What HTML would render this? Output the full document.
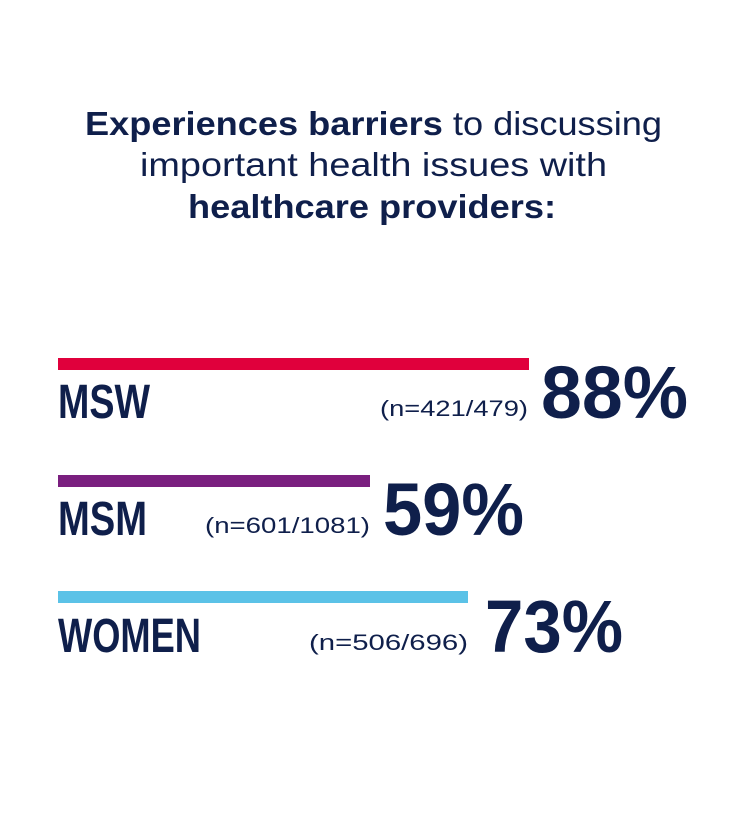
<!DOCTYPE html>
<html><head><style>body{margin:0;background:#fff}svg{display:block}</style></head><body>
<svg width="750" height="818" viewBox="0 0 750 818" xmlns="http://www.w3.org/2000/svg">
<g font-family="Liberation Sans, sans-serif" fill="#0f1f4b" font-size="33">
<text x="85" y="135" textLength="577" lengthAdjust="spacingAndGlyphs"><tspan font-weight="bold">Experiences barriers</tspan> to discussing</text>
<text x="140" y="176" textLength="467" lengthAdjust="spacingAndGlyphs">important health issues with</text>
<text x="188" y="218" textLength="368" lengthAdjust="spacingAndGlyphs" font-weight="bold">healthcare providers:</text>
</g>
<rect x="58" y="358" width="471" height="12" fill="#e0003c"/>
<rect x="58" y="475" width="312" height="12" fill="#7a1f7f"/>
<rect x="58" y="591" width="410" height="12" fill="#5bc2e7"/>
<g fill="#0f1f4b" font-weight="bold" font-family="Liberation Sans Narrow, Liberation Sans, sans-serif" font-size="48">
<text x="58" y="418" textLength="92" lengthAdjust="spacingAndGlyphs">MSW</text>
<text x="58" y="535" textLength="89" lengthAdjust="spacingAndGlyphs">MSM</text>
<text x="58" y="652" textLength="143" lengthAdjust="spacingAndGlyphs">WOMEN</text>
</g>
<g fill="#0f1f4b" font-family="Liberation Sans, sans-serif" font-size="22">
<text x="380" y="416" textLength="148" lengthAdjust="spacingAndGlyphs">(n=421/479)</text>
<text x="205" y="533" textLength="165" lengthAdjust="spacingAndGlyphs">(n=601/1081)</text>
<text x="309" y="650" textLength="159" lengthAdjust="spacingAndGlyphs">(n=506/696)</text>
</g>
<g fill="#0f1f4b" font-weight="bold" font-family="Liberation Sans, sans-serif" font-size="74">
<text x="541" y="418" textLength="147" lengthAdjust="spacingAndGlyphs">88%</text>
<text x="383" y="535" textLength="141" lengthAdjust="spacingAndGlyphs">59%</text>
<text x="485" y="652" textLength="138" lengthAdjust="spacingAndGlyphs">73%</text>
</g>
</svg>
</body></html>
